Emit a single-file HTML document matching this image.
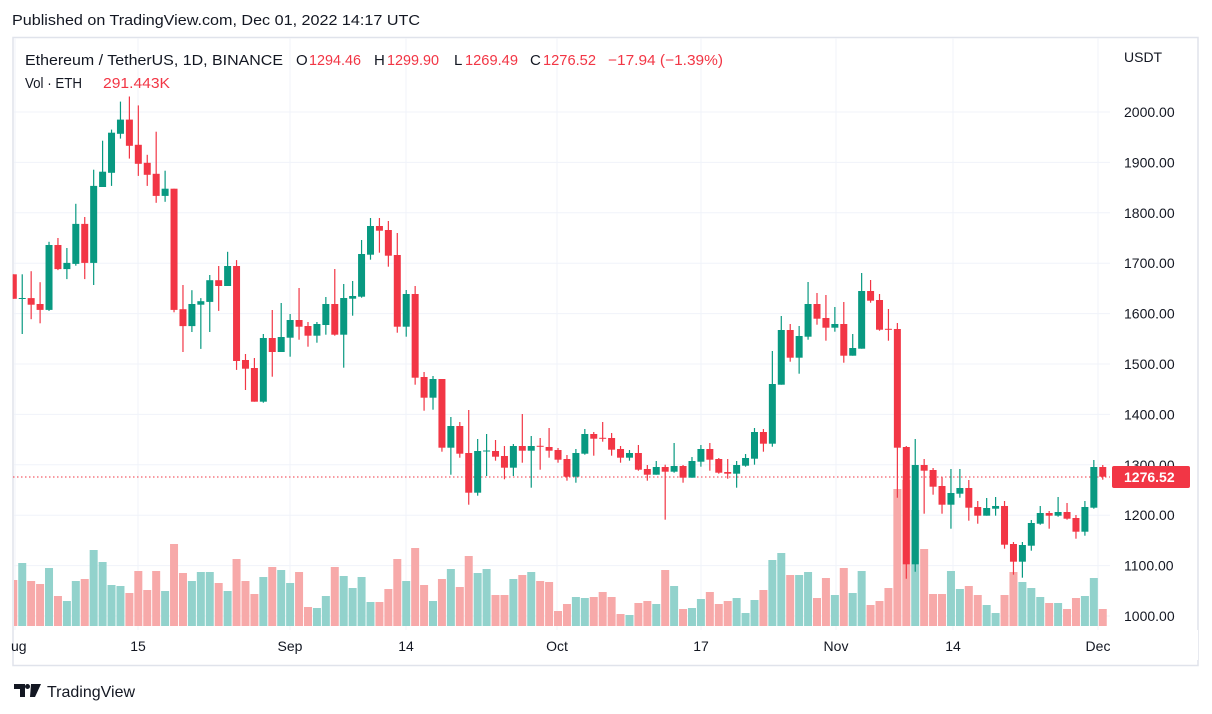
<!DOCTYPE html>
<html><head><meta charset="utf-8"><style>
html,body{margin:0;padding:0;background:#fff;width:1212px;height:714px;overflow:hidden;font-family:"Liberation Sans",sans-serif;}
svg{position:absolute;left:0;top:0}
</style></head><body>
<svg id="s" width="1212" height="714" xmlns="http://www.w3.org/2000/svg" font-family="Liberation Sans, sans-serif">
<rect x="0" y="0" width="1212" height="714" fill="#fff"/>
<text x="12" y="25" font-size="15" fill="#131722" textLength="408" lengthAdjust="spacingAndGlyphs">Published on TradingView.com, Dec 01, 2022 14:17 UTC</text>
<rect x="13" y="37.5" width="1185" height="628" fill="none" stroke="#e0e3eb" stroke-width="1.5"/>
<g id="grid" stroke="#f0f3fa" stroke-width="1"></g>
<g id="vol"></g>
<line x1="13" y1="477" x2="1110" y2="477" stroke="#f23645" stroke-width="1" stroke-dasharray="1.5,2.5"/>
<g id="cdl"></g>
<g font-size="14" fill="#131722" id="axis">
<text x="1124" y="62">USDT</text>
</g>
<rect x="1112" y="466" width="78" height="22" rx="2" fill="#f23645"/>
<text x="1124" y="482" font-size="14" fill="#fff" font-weight="bold">1276.52</text>
<g font-size="14" fill="#131722">
<text x="11" y="651">ug</text>
<text x="138" y="651" text-anchor="middle">15</text>
<text x="290" y="651" text-anchor="middle">Sep</text>
<text x="406" y="651" text-anchor="middle">14</text>
<text x="557" y="651" text-anchor="middle">Oct</text>
<text x="701" y="651" text-anchor="middle">17</text>
<text x="836" y="651" text-anchor="middle">Nov</text>
<text x="953" y="651" text-anchor="middle">14</text>
<text x="1098" y="651" text-anchor="middle">Dec</text>
</g>
<rect x="1110" y="630" width="88" height="30" fill="#fff"/>
<g font-size="15">
<text x="25" y="65" fill="#131722" textLength="258" lengthAdjust="spacingAndGlyphs">Ethereum / TetherUS, 1D, BINANCE</text>
<text x="296" y="65" fill="#131722">O</text><text x="309" y="65" fill="#f23645" textLength="52" lengthAdjust="spacingAndGlyphs">1294.46</text>
<text x="374" y="65" fill="#131722">H</text><text x="387" y="65" fill="#f23645" textLength="52" lengthAdjust="spacingAndGlyphs">1299.90</text>
<text x="454" y="65" fill="#131722">L</text><text x="465" y="65" fill="#f23645" textLength="53" lengthAdjust="spacingAndGlyphs">1269.49</text>
<text x="530" y="65" fill="#131722">C</text><text x="543" y="65" fill="#f23645" textLength="53" lengthAdjust="spacingAndGlyphs">1276.52</text>
<text x="608" y="65" fill="#f23645" textLength="115" lengthAdjust="spacingAndGlyphs">−17.94 (−1.39%)</text>
<text x="25" y="88" fill="#131722" textLength="57" lengthAdjust="spacingAndGlyphs">Vol · ETH</text>
<text x="103" y="88" fill="#f23645" textLength="67" lengthAdjust="spacingAndGlyphs">291.443K</text>
</g>
<g fill="#131722">
<path d="M14 684 h11 v13 h-5 v-8 h-6z"/><circle cx="27.5" cy="686.5" r="2.5"/><path d="M31 684 h10 l-6 13 h-5z"/>
</g>
<text x="47" y="697" font-size="16" fill="#131722">TradingView</text>
</svg>
<script>
var ns="http://www.w3.org/2000/svg";
function el(p,t,a){var e=document.createElementNS(ns,t);for(var k in a)e.setAttribute(k,a[k]);document.getElementById(p).appendChild(e);return e;}
var prices=[2000,1900,1800,1700,1600,1500,1400,1300,1200,1100,1000];
prices.forEach(function(p){var y=112+(2000-p)*0.504;el("grid","line",{x1:14,x2:1110,y1:y,y2:y});
var t=el("axis","text",{x:1124,y:y+5});t.textContent=p.toFixed(2);});
[15,138,290,406,557,701,836,953,1098].forEach(function(x){el("grid","line",{x1:x,x2:x,y1:38,y2:630});});
var D=[
[274.3,298.8,274.3,298.8,'r',580],[298,299,274.3,334,'g',563],[298.1,304.7,271.2,319.2,'r',581],[304,309.9,282.2,323.3,'r',584],
[245,309.9,241.8,310.9,'g',568],[245,269.1,238,270.1,'r',596],[262.9,269.1,248,279.1,'g',601],[223.9,263.9,203.8,265.7,'g',581],
[223.9,262.9,217,279.1,'r',579],[185.9,262.9,169.7,285,'g',550],[171.7,187,140.7,187,'g',562],[132.7,172.8,129.6,185.9,'g',585],
[119.6,133.8,101.6,138.6,'g',586],[119.6,145.8,96.5,158.6,'r',593],[144.8,163.8,105.4,175.9,'r',571],[162.8,174.8,154.8,185.9,'r',590],
[173.8,195.9,131.7,202.8,'r',571],[188.7,195.9,170.7,201.8,'g',591],[188.7,309.9,188.7,312.3,'r',544],[309.2,326.1,285,352,'r',573],
[304,326.1,290.2,332,'g',581],[301.2,304.7,298.1,348.9,'g',572],[280.2,301.9,275,332,'g',572],[280.2,286,266,310.9,'r',583],
[266,286,251.8,286,'g',591],[266,361,260.1,369.9,'r',559],[360,368.7,354,390,'r',581],
[368,401.7,358,401.7,'r',594],[338,401.7,334,402.7,'g',577],[338,352,310,376.7,'r',567],[337,352,303,352,'g',570],
[320,337.7,314,356.7,'g',583],[320,326.7,288,339.7,'r',572],[326,335.7,322,346.7,'r',607],[324,335.7,322,342.7,'g',608],
[304,325,297,334.7,'g',596],[304,334.7,269,335.7,'r',567],[298,334.7,284,367.7,'g',576],[296,298.7,281,315.7,'g',588],
[254,296.7,240,297.7,'g',577],[226,254.7,218,259.7,'g',602],[226,230.7,218,252.7,'r',602],[230,255.7,221,266.7,'r',589],
[255,326.7,233,332.7,'r',559],[294,326.7,290,336.7,'g',581],[294,377.7,286,384.7,'r',548],[377,397.7,372,410.7,'r',585],
[379,397.7,376,409.7,'g',601],[379,447.7,379,451.7,'r',579],[426,447.7,417,474.7,'g',569],[426,453.7,422,457.7,'r',587],
[453,492.7,410,504.7,'r',556],[451,492.7,439,495.7,'g',573],
[450.5,451.5,434,476,'g',569],[451,456.7,440,460.7,'r',595],[456,467.7,446,479.3,'r',595],[446,467.7,444,476,'g',579],
[446,450.7,414,462.7,'r',575],[446,450.7,436,487.7,'g',572],[445.8,446.8,438,469.7,'r',581],[447,450.7,428,457.7,'r',582],
[450,459.7,448,462.7,'r',611],[459,476.7,455,480.7,'r',604],[453,476.7,449,482.7,'g',597],[434,453.7,429,454.7,'g',598],
[434,438.7,432,455.7,'r',597],[437.8,438.8,422,441.7,'r',592],[438,449.7,433,455.7,'r',597],[449,457.7,446,462.7,'r',614],
[453,457.7,450,460.7,'g',615],[453,469.7,445,470.7,'r',603],[469,474.7,465,480.7,'r',601],[467,474.7,461,474.7,'g',604],
[467,471.7,464.7,519.7,'r',570],[466,471.7,443,472.7,'g',586],[466,477.7,465,482.7,'r',609],[461,477.7,457,477.7,'g',608],
[449,461.7,445,466.7,'g',599],[449,459.7,443,470.7,'r',592],[459,472.7,458,473.7,'r',604],[472,473.7,459,478.7,'r',601],
[465,473.7,461,487.7,'g',598],[458,465.7,454,466.7,'g',613],[432,458.7,428,464.7,'g',600],[432,443.7,429,451.7,'r',590],
[384,443.7,351,446.7,'g',560],[330,384.7,316,384.7,'g',553],[330,357.7,324,361.7,'r',575],[336,357.7,326,373.7,'g',575],
[304,336.7,282,339.7,'g',572],[304,318.7,293,324.7,'r',598],[318,327.7,295,340.7,'r',578],[324,327.7,307,331.7,'g',595],
[324,355.7,302,362.7,'r',568],[348,355.7,334,355.7,'g',593],[291,348.7,273,348.7,'g',571],[291,300.7,280,302.7,'r',605],
[300,329.7,294,330.7,'r',601],[328.8,329.8,309,340.7,'r',588],[329,447.7,323,497.7,'r',489],[447,564.3,446,578.7,'r',480],
[465,564.3,439,571.7,'g',510],[465,470.7,459,513.7,'r',549],[470,486.7,468,494.7,'r',594],[486,504.7,477,513.7,'r',594],
[493,504.7,469,528.7,'g',571],[488,493.7,469,497.7,'g',589],[488,507.7,480,520.7,'r',586],[507,515.7,501,523.7,'r',595],
[508,515.7,498,515.7,'g',605],[506,508.7,497,515.7,'g',613],[506,544.7,501,548.7,'r',595],[544,561.7,542,574.7,'r',572],
[545,561.7,542,577.7,'g',582],[523,545.7,520,550.7,'g',588],[513,523.7,506,524.7,'g',597],[513,515.7,511,528.7,'r',603],
[512,515.7,497,516.7,'g',603],[512,518.7,503,519.7,'r',609],[518,531.7,515,538.7,'r',598],[507,531.7,501,535.7,'g',596],
[467,507.7,460,508.7,'g',578],[467,476.7,465,479.7,'r',609]
];
var G="#089981",R="#f23645";
D.forEach(function(d,i){
 var x=13.3+8.93*i, c=d[4]=='g'?G:R;
 var vx=Math.max(x-4,14), vw=Math.min(x+4,1110)-vx;
 el("vol","rect",{x:vx,y:d[5],width:vw,height:626-d[5],fill:d[4]=='g'?"#92d2cc":"#f7a9a9"});
 var bx=Math.max(x-3.5,13), bw=x+3.5-bx;
 if(x>13) el("cdl","line",{x1:x,x2:x,y1:d[2],y2:d[3],stroke:c,"stroke-width":1.2});
 el("cdl","rect",{x:bx,y:d[0],width:bw,height:Math.max(d[1]-d[0],1),fill:c});
});
</script>
</body></html>
